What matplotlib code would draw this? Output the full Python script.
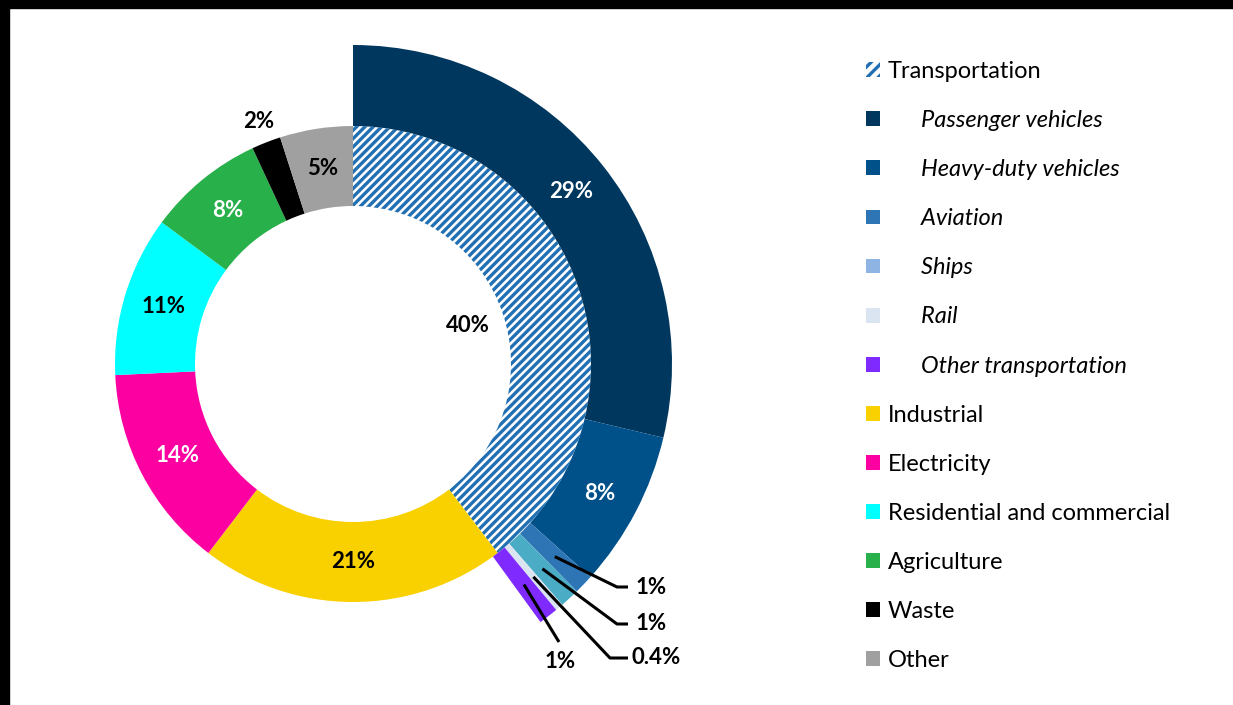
import matplotlib.pyplot as plt
import numpy as np
from matplotlib.patches import Patch, Rectangle

plt.rcParams['font.family'] = ['Lato', 'DejaVu Sans']
plt.rcParams['hatch.linewidth'] = 2.4

# inner ring: sectors
sectors = ['Transportation', 'Industrial', 'Electricity', 'Residential and commercial',
           'Agriculture', 'Waste', 'Other']
sector_vals = [40, 21, 14, 11, 8, 2, 5]
sector_colors = ['white', '#f9d000', '#fc00a2', '#00ffff', '#28b04a', '#000000', '#a0a0a0']
sector_text = ['black', 'black', 'white', 'black', 'white', 'black', 'black']

# outer ring: transportation breakdown
transport = ['Passenger vehicles', 'Heavy-duty vehicles', 'Aviation', 'Ships', 'Rail',
             'Other transportation']
transport_vals = [29, 8, 1, 1, 0.4, 1]
transport_colors = ['#00375e', '#00508a', '#2e75b6', '#4bacc6', '#dbe5f1', '#7f2bff']
transport_legend_colors = ['#00375e', '#00508a', '#2e75b6', '#8db4e2', '#dbe5f1', '#7f2bff']
hatch_color = '#2270b4'

W, H = 1233, 705
fig = plt.figure(figsize=(W / 100, H / 100), dpi=100)
ax = fig.add_axes([0, 0, 1, 1])

cx, cy = 353, 341
r_in, r_mid, r_out = 158, 238, 319

inner, _ = ax.pie(sector_vals, colors=sector_colors, startangle=90, counterclock=False,
                  radius=r_mid, center=(cx, cy), frame=True,
                  wedgeprops=dict(width=r_mid - r_in, linewidth=0))
inner[0].set_hatch('////')
inner[0].set_edgecolor(hatch_color)
inner[0].set_linewidth(0)

rest = sum(sector_vals) - sum(transport_vals)
outer, _ = ax.pie(transport_vals + [rest], colors=transport_colors + ['none'], startangle=90,
                  counterclock=False, radius=r_out, center=(cx, cy), frame=True,
                  wedgeprops=dict(width=r_out - r_mid, linewidth=0))

ax.set_xlim(0, W)
ax.set_ylim(0, H)
ax.axis('off')


def mid_point(w, r):
    a = np.deg2rad((w.theta1 + w.theta2) / 2)
    return cx + r * np.cos(a), cy + r * np.sin(a)


lab_kw = dict(fontsize=16, fontweight='bold', ha='center', va='center')

# inner ring labels
for i, (w, v) in enumerate(zip(inner, sector_vals)):
    r = (r_in + r_mid) / 2
    if i == 0:
        r = 121
    elif sectors[i] == 'Waste':
        r = 260
    x, y = mid_point(w, r)
    ax.text(x, y, f'{v}%', color=sector_text[i], **lab_kw)

# outer ring labels (big ones inside)
for w, v in zip(outer[:2], transport_vals[:2]):
    x, y = mid_point(w, (r_mid + r_out) / 2)
    ax.text(x, y, f'{v:g}%', color='white', **lab_kw)

# small ones with leader lines
leaders = [((617, 118), (628, 118), (636, 118), 'left'),
           ((617, 81), (628, 81), (636, 81), 'left'),
           ((610, 47), (628, 47), (632, 47), 'left'),
           ((559, 63), (559, 63), (560, 44), 'center')]
for w, v, (p1, p2, pt, ha) in zip(outer[2:6], transport_vals[2:], leaders):
    x0, y0 = mid_point(w, 279)
    ax.plot([x0, p1[0], p2[0]], [y0, p1[1], p2[1]], color='black', lw=2.2,
            solid_capstyle='butt')
    ax.text(pt[0], pt[1], f'{v:g}%', color='black', fontsize=16, fontweight='bold',
            ha=ha, va='center')

# legend
indent = '      '
handles = [Patch(facecolor='white', edgecolor=hatch_color, hatch='///', linewidth=0)]
labels = [sectors[0]]
for name, c in zip(transport, transport_legend_colors):
    handles.append(Patch(facecolor=c, linewidth=0))
    labels.append(indent + name)
for name, c in zip(sectors[1:], sector_colors[1:]):
    handles.append(Patch(facecolor=c, linewidth=0))
    labels.append(name)

leg = fig.legend(handles, labels, loc='upper left', bbox_to_anchor=(866 / W, 1 - 61 / H),
                 frameon=False, fontsize=17, handlelength=0.59, handleheight=0.59,
                 handletextpad=0.34, labelspacing=1.19, borderpad=0, borderaxespad=0)
for t in leg.get_texts()[1:7]:
    t.set_fontstyle('italic')

# black frame edges
fig.add_artist(Rectangle((0, 1 - 8 / H), 1, 8 / H, transform=fig.transFigure,
                         color='black', zorder=10))
fig.add_artist(Rectangle((0, 0), 9 / W, 1, transform=fig.transFigure,
                         color='black', zorder=10))

fig.savefig('out.png', dpi=100)
